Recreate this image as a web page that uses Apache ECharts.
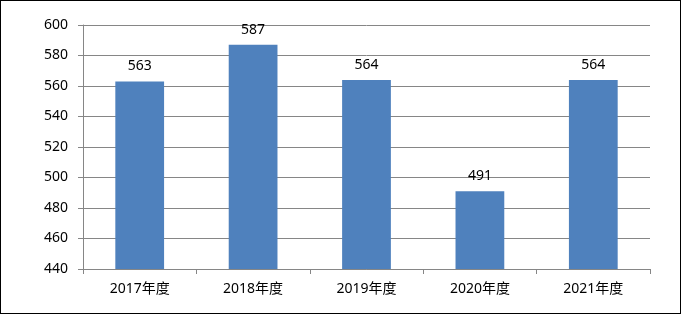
<!DOCTYPE html>
<html><head><meta charset="utf-8">
<script src="https://cdn.jsdelivr.net/npm/echarts@6/dist/echarts.min.js"></script>
<style>html,body{margin:0;padding:0;background:#fff}#c{width:681px;height:314px;box-sizing:border-box;border:1px solid #000}</style>
</head><body><div id="c"></div>
<script>
const categories = ['2017年度','2018年度','2019年度','2020年度','2021年度'];
const values = [563, 587, 564, 491, 564];
const yMin = 440, yMax = 600, yStep = 20;
const font = '"Noto Sans", "Noto Sans CJK SC", sans-serif';
const chart = echarts.init(document.getElementById('c'), null, {renderer:'canvas'});
chart.setOption({
  animation:false,
  grid:{left:82, right:30, top:24, bottom:44},
  xAxis:{type:'category', data:categories,
    axisLine:{lineStyle:{color:'#868686'}},
    axisTick:{show:true, length:5, lineStyle:{color:'#868686'}},
    axisLabel:{color:'#000', fontSize:14, fontFamily:font, margin:13}},
  yAxis:{type:'value', min:yMin, max:yMax, interval:yStep,
    axisLine:{show:true, lineStyle:{color:'#868686'}},
    axisTick:{show:true, length:5, lineStyle:{color:'#868686'}},
    splitLine:{lineStyle:{color:'#868686'}},
    axisLabel:{color:'#000', fontSize:14, fontFamily:font, margin:15}},
  series:[{type:'bar', data:values, barWidth:'43%',
    itemStyle:{color:'#4F81BD'},
    label:{show:true, position:'top', distance:8, color:'#000', fontSize:14, fontFamily:font}}]
});
</script></body></html>
